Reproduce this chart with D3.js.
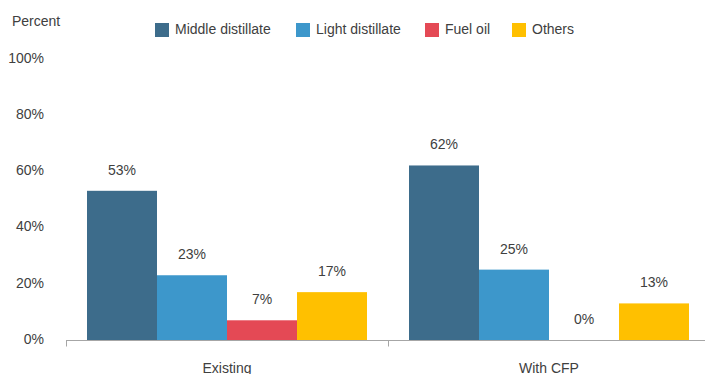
<!DOCTYPE html>
<html>
<head>
<meta charset="utf-8">
<script src="https://cdn.jsdelivr.net/npm/d3@7"></script>
<style>
  html, body { margin: 0; padding: 0; background: #fff; }
  svg { display: block; font-family: "Liberation Sans", Arial, Helvetica, sans-serif; }
</style>
</head>
<body>
<svg id="chart" width="705" height="374"></svg>
<script>
// Output shares by product, per scenario
const categories = ["Existing", "With CFP"];
const seriesNames = ["Middle distillate", "Light distillate", "Fuel oil", "Others"];
const middleDistillate = [53, 62];
const lightDistillate = [23, 25];
const fuelOil = [7, 0];
const others = [17, 13];
const yTicks = [0, 20, 40, 60, 80, 100];
const colors = ["#3d6c8b", "#3d97cb", "#e44955", "#ffc000"];

const seriesValues = [middleDistillate, lightDistillate, fuelOil, others];
const rows = categories.map((c, i) => ({
  category: c,
  values: seriesNames.map((s, j) => ({ series: s, value: seriesValues[j][i], idx: j }))
}));

const svg = d3.select("#chart");
const textColor = "#404040";
const fontSize = 14;

const x0 = d3.scaleBand().domain(categories).range([66, 710]).paddingInner(0).paddingOuter(0);
const x1 = d3.scaleBand().domain(seriesNames).range([21, 301]).padding(0);
const y = d3.scaleLinear().domain([0, 100]).range([340, 58.5]);

// Y tick labels
svg.append("g").selectAll("text")
  .data(yTicks).join("text")
  .attr("x", 44)
  .attr("y", d => y(d) + 4)
  .attr("text-anchor", "end")
  .attr("font-size", fontSize)
  .attr("fill", textColor)
  .text(d => d + "%");

svg.append("text")
  .attr("x", 12).attr("y", 26)
  .attr("font-size", fontSize).attr("fill", textColor)
  .text("Percent");

// Bars
const groups = svg.append("g").selectAll("g")
  .data(rows).join("g")
  .attr("transform", d => `translate(${x0(d.category)},0)`);

groups.selectAll("rect")
  .data(d => d.values.filter(v => v.value > 0)).join("rect")
  .attr("x", d => x1(d.series))
  .attr("width", x1.bandwidth())
  .attr("y", d => y(d.value))
  .attr("height", d => y(0) - y(d.value))
  .attr("fill", d => colors[d.idx]);

// Value labels
groups.selectAll("text")
  .data(d => d.values).join("text")
  .attr("x", d => x1(d.series) + x1.bandwidth() / 2)
  .attr("y", d => y(d.value) - 16)
  .attr("text-anchor", "middle")
  .attr("font-size", fontSize)
  .attr("fill", textColor)
  .text(d => d.value + "%");

// X axis
const xAxis = svg.append("g").attr("transform", "translate(0,340.5)");
xAxis.append("line")
  .attr("x1", 66).attr("x2", 710)
  .attr("stroke", "#a6a6a6").attr("stroke-width", 1);
const boundaries = categories.map(c => x0(c));
xAxis.selectAll("line.tick")
  .data(boundaries).join("line")
  .attr("class", "tick")
  .attr("x1", d => Math.round(d) + 0.5).attr("x2", d => Math.round(d) + 0.5)
  .attr("y1", 0).attr("y2", 6)
  .attr("stroke", "#a6a6a6");
xAxis.selectAll("text")
  .data(categories).join("text")
  .attr("x", d => x0(d) + x0.bandwidth() / 2)
  .attr("y", 32.5)
  .attr("text-anchor", "middle")
  .attr("font-size", fontSize)
  .attr("fill", textColor)
  .text(d => d);

// Legend
const legendX = [155, 296, 425, 512];
const legend = svg.append("g").selectAll("g")
  .data(seriesNames).join("g")
  .attr("transform", (d, i) => `translate(${legendX[i]},23)`);
legend.append("rect")
  .attr("width", 14).attr("height", 14)
  .attr("fill", (d, i) => colors[i]);
legend.append("text")
  .attr("x", 20).attr("y", 11)
  .attr("font-size", fontSize)
  .attr("fill", textColor)
  .text(d => d);
</script>
</body>
</html>
